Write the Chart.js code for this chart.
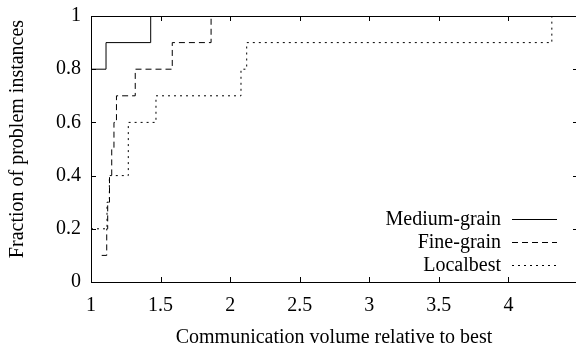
<!DOCTYPE html>
<html><head><meta charset="utf-8">
<script src="https://cdn.jsdelivr.net/npm/chart.js@4/dist/chart.umd.min.js"></script>
<style>html,body{margin:0;padding:0;overflow:hidden;background:#fff;width:576px;height:345px}
canvas{display:block}</style></head>
<body><canvas id="c" width="600" height="345" style="width:600px;height:345px"></canvas>
<script>
const xTickValues = [1, 1.5, 2, 2.5, 3, 3.5, 4, 4.5];
const xTickLabels = ['1', '1.5', '2', '2.5', '3', '3.5', '4', ''];
const yTickValues = [0, 0.2, 0.4, 0.6, 0.8, 1];
const yTickLabels = ['0', '0.2', '0.4', '0.6', '0.8', '1'];
const seriesNames = ['Medium-grain', 'Fine-grain', 'Localbest'];
const xTitle = 'Communication volume relative to best';
const yTitle = 'Fraction of problem instances';

const mediumX = [1.0, 1.108, 1.429];
const mediumY = [0.8, 0.9, 1.0];
const fineX = [1.077, 1.113, 1.120, 1.133, 1.149, 1.165, 1.183, 1.318, 1.584, 1.863];
const fineY = [0.1, 0.2, 0.3, 0.4, 0.5, 0.6, 0.7, 0.8, 0.9, 1.0];
const localX = [1.0, 1.115, 1.132, 1.268, 1.268, 1.467, 2.078, 2.119, 4.312];
const localY = [0.2, 0.3, 0.4, 0.5, 0.6, 0.7, 0.8, 0.9, 1.0];

const FONT = '"Liberation Serif", "Times New Roman", serif';
const dashes = [[], [6, 4], [2, 4]];

function pts(xs, ys) { return xs.map((x, i) => ({ x: x, y: ys[i] })); }

const framePlugin = {
  id: 'frame',
  afterDatasetsDraw(chart) {
    const { ctx, chartArea: a, scales } = chart;
    ctx.save();
    ctx.strokeStyle = '#000';
    ctx.lineWidth = 1;
    ctx.setLineDash([]);
    ctx.strokeRect(a.left + 0.5, a.top + 0.5, a.right - a.left, a.bottom - a.top);
    const L = 5;
    ctx.beginPath();
    xTickValues.forEach(v => {
      const px = Math.round(scales.x.getPixelForValue(v)) + 0.5;
      ctx.moveTo(px, a.bottom); ctx.lineTo(px, a.bottom - L);
      ctx.moveTo(px, a.top); ctx.lineTo(px, a.top + L);
    });
    yTickValues.forEach(v => {
      const py = Math.round(scales.y.getPixelForValue(v)) + 0.5;
      ctx.moveTo(a.left, py); ctx.lineTo(a.left + L, py);
      ctx.moveTo(a.right, py); ctx.lineTo(a.right - L, py);
    });
    ctx.stroke();
    ctx.restore();
  }
};

const legendPlugin = {
  id: 'customLegend',
  afterDatasetsDraw(chart) {
    const { ctx } = chart;
    ctx.save();
    ctx.font = '20px ' + FONT;
    ctx.fillStyle = '#000';
    ctx.textAlign = 'right';
    ctx.textBaseline = 'alphabetic';
    const baselines = [225, 248, 271];
    chart.data.datasets.forEach((ds, i) => {
      ctx.fillText(ds.label, 501, baselines[i]);
      ctx.beginPath();
      ctx.strokeStyle = '#000';
      ctx.lineWidth = 1;
      ctx.setLineDash(ds.borderDash || []);
      const y = baselines[i] - 6 + 0.5;
      ctx.moveTo(512, y); ctx.lineTo(557, y);
      ctx.stroke();
    });
    ctx.restore();
  }
};

const titlePlugin = {
  id: 'axisTitles',
  afterDraw(chart) {
    const { ctx } = chart;
    ctx.save();
    ctx.font = '20px ' + FONT;
    ctx.fillStyle = '#000';
    ctx.textAlign = 'center';
    ctx.textBaseline = 'alphabetic';
    ctx.fillText(xTitle, 334, 343);
    ctx.translate(23, 139);
    ctx.rotate(-Math.PI / 2);
    ctx.fillText(yTitle, 0, 0);
    ctx.restore();
  }
};

new Chart(document.getElementById('c'), {
  type: 'line',
  data: {
    datasets: [
      { label: seriesNames[0], data: pts(mediumX, mediumY) },
      { label: seriesNames[1], data: pts(fineX, fineY) },
      { label: seriesNames[2], data: pts(localX, localY) }
    ].map((d, i) => Object.assign(d, {
      borderColor: '#000', borderWidth: 1, borderDash: dashes[i],
      stepped: 'before', pointRadius: 0, fill: false, clip: false, tension: 0
    }))
  },
  options: {
    responsive: false, animation: false, devicePixelRatio: 1,
    layout: { padding: { left: 0, top: 16, right: 22, bottom: 0 } },
    plugins: { legend: { display: false }, tooltip: { enabled: false } },
    scales: {
      x: {
        type: 'linear', min: 1, max: 4.5,
        afterBuildTicks: s => { s.ticks = xTickValues.map(v => ({ value: v })); },
        afterFit: s => { s.height = 63; s.paddingLeft = 0; s.paddingRight = 0; },
        grid: { display: false, drawTicks: false }, border: { display: false },
        ticks: {
          font: { family: FONT, size: 20 }, color: '#000', padding: 12,
          maxRotation: 0, autoSkip: false,
          callback: v => xTickLabels[xTickValues.indexOf(v)] ?? ''
        }
      },
      y: {
        type: 'linear', min: 0, max: 1,
        afterBuildTicks: s => { s.ticks = yTickValues.map(v => ({ value: v })); },
        afterFit: s => { s.width = 91; s.paddingTop = 0; s.paddingBottom = 0; },
        grid: { display: false, drawTicks: false }, border: { display: false },
        ticks: {
          font: { family: FONT, size: 20 }, color: '#000', padding: 10,
          autoSkip: false,
          callback: v => yTickLabels[yTickValues.indexOf(v)] ?? ''
        }
      }
    }
  },
  plugins: [framePlugin, legendPlugin, titlePlugin]
});
</script>
</body></html>
